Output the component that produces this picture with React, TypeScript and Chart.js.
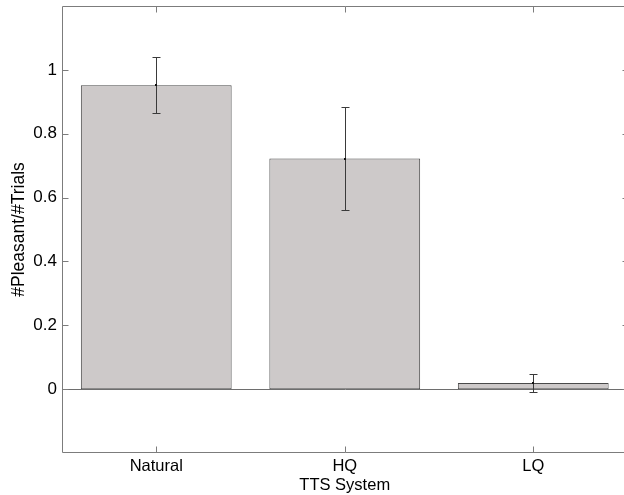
import React, { useEffect, useRef } from "react";
import { Chart, registerables } from "chart.js";

Chart.register(...registerables);

const categories = ["Natural", "HQ", "LQ"];
const means = [0.952, 0.722, 0.019];
const errLow = [0.864, 0.56, -0.009];
const errHigh = [1.04, 0.883, 0.048];
const yTicks = [0, 0.2, 0.4, 0.6, 0.8, 1];
const yMin = -0.2;
const yMax = 1.2;

const FONT = "'Liberation Sans', Arial, Helvetica, sans-serif";

const framePlugin = {
  id: "matlabFrame",
  afterDatasetsDraw(chart: any) {
    const { ctx, chartArea } = chart;
    const xs = chart.scales.x;
    const ys = chart.scales.y;
    const L = Math.round(chartArea.left) + 0.5;
    const R = Math.round(chartArea.right) + 0.5;
    const T = Math.round(chartArea.top) + 0.5;
    const B = Math.round(chartArea.bottom) - 0.5;
    const tl = 6;
    ctx.save();
    ctx.lineWidth = 1;
    const y0 = Math.round(ys.getPixelForValue(0)) + 0.5;
    ctx.strokeStyle = "#6e6e6e";
    ctx.beginPath();
    ctx.moveTo(L, y0);
    ctx.lineTo(R, y0);
    ctx.stroke();
    ctx.strokeStyle = "#7c7c7c";
    ctx.beginPath();
    ctx.moveTo(L, T);
    ctx.lineTo(R, T);
    ctx.lineTo(R, B);
    ctx.lineTo(L, B);
    ctx.closePath();
    ctx.stroke();
    ctx.beginPath();
    yTicks.forEach((v) => {
      const py = Math.round(ys.getPixelForValue(v)) + 0.5;
      ctx.moveTo(L, py);
      ctx.lineTo(L + tl, py);
      ctx.moveTo(R, py);
      ctx.lineTo(R - tl, py);
    });
    categories.forEach((_, i) => {
      const px = Math.round(xs.getPixelForValue(i)) + 0.5;
      ctx.moveTo(px, B);
      ctx.lineTo(px, B - tl);
      ctx.moveTo(px, T);
      ctx.lineTo(px, T + tl);
    });
    ctx.stroke();
    ctx.strokeStyle = "#3a3a3a";
    ctx.beginPath();
    categories.forEach((_, i) => {
      const px = Math.round(xs.getPixelForValue(i)) + 0.5;
      const yl = Math.round(ys.getPixelForValue(errLow[i])) + 0.5;
      const yh = Math.round(ys.getPixelForValue(errHigh[i])) + 0.5;
      ctx.moveTo(px, yl);
      ctx.lineTo(px, yh);
      ctx.moveTo(px - 4, yl);
      ctx.lineTo(px + 4, yl);
      ctx.moveTo(px - 4, yh);
      ctx.lineTo(px + 4, yh);
    });
    ctx.stroke();
    ctx.fillStyle = "#111";
    categories.forEach((_, i) => {
      const px = Math.round(xs.getPixelForValue(i));
      const pm = Math.round(ys.getPixelForValue(means[i]));
      ctx.fillRect(px - 1, pm - 1, 2, 2);
    });
    ctx.restore();
  },
};

export default function App() {
  const ref = useRef<HTMLCanvasElement | null>(null);
  useEffect(() => {
    if (!ref.current) return;
    Chart.defaults.font.family = FONT;
    const chart = new Chart(ref.current, {
      type: "bar",
      data: {
        labels: categories,
        datasets: [
          {
            data: means,
            backgroundColor: "#cdc9c9",
            borderColor: "#4a4a4a",
            borderWidth: 1,
            borderSkipped: false,
            barPercentage: 0.8,
            categoryPercentage: 1,
          },
        ],
      },
      options: {
        animation: false,
        responsive: false,
        maintainAspectRatio: false,
        layout: { padding: { left: 0, top: 6, right: 12.5, bottom: 0 } },
        plugins: {
          legend: { display: false },
          tooltip: { enabled: false },
          title: { display: false },
        },
        scales: {
          x: {
            type: "category",
            offset: true,
            grid: { display: false, drawTicks: false },
            border: { display: false },
            ticks: {
              color: "#000",
              font: { size: 16.5, family: FONT },
              padding: 4,
              maxRotation: 0,
              autoSkip: false,
            },
            title: {
              display: true,
              text: "TTS System",
              color: "#000",
              font: { size: 16.5, family: FONT },
              padding: { top: 0, bottom: 0 },
            },
            afterFit(scale: any) {
              scale.height = 42;
              scale.paddingLeft = 0;
              scale.paddingRight = 0;
            },
          },
          y: {
            type: "linear",
            min: yMin,
            max: yMax,
            grid: { display: false, drawTicks: false },
            border: { display: false },
            afterBuildTicks(scale: any) {
              scale.ticks = yTicks.map((v) => ({ value: v }));
            },
            ticks: {
              color: "#000",
              font: { size: 17, family: FONT },
              padding: 5,
              callback: (v: any) => String(v),
            },
            title: {
              display: true,
              text: "#Pleasant/#Trials",
              color: "#000",
              font: { size: 17.5, family: FONT },
              padding: { top: 9, bottom: 0 },
            },
            afterFit(scale: any) {
              scale.width = 62;
              scale.paddingTop = 0;
              scale.paddingBottom = 0;
            },
          },
        },
      },
      plugins: [framePlugin],
    });
    return () => chart.destroy();
  }, []);
  return (
    <div
      style={{
        position: "fixed",
        left: 0,
        top: 0,
        width: 624,
        height: 495,
        overflow: "hidden",
        background: "#fff",
      }}
    >
      <canvas ref={ref} width={640} height={495} style={{ width: 640, height: 495, display: "block" }} />
    </div>
  );
}
